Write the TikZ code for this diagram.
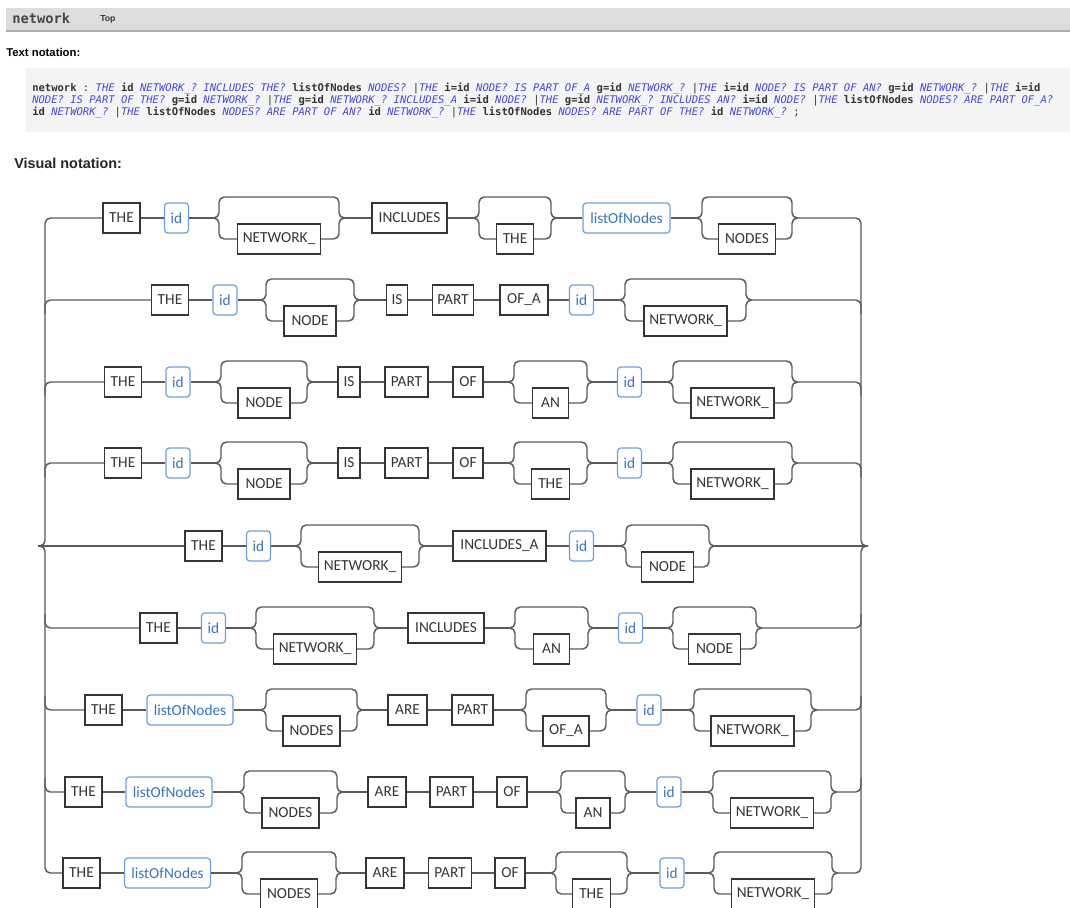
\documentclass[tikz,border=0pt]{standalone}
\usepackage{fontspec}
\setmainfont{Carlito}
\newfontfamily\codefont{DejaVu Sans Mono}
\newfontfamily\labelfont{Liberation Sans}

\definecolor{railgray}{HTML}{5A5A5A}
\definecolor{boxgray}{HTML}{353535}
\definecolor{idblue}{HTML}{6E9FD8}
\definecolor{idtext}{HTML}{3A74BA}
\definecolor{kwblue}{HTML}{4848D0}
\definecolor{codebg}{HTML}{F4F4F4}
\definecolor{barbg}{HTML}{DDDDDD}

\newcommand{\kwd}[1]{{\itshape\color{kwblue}#1}}
\newcommand{\idt}[1]{{\bfseries #1}}

\tikzset{
	rail/.style={draw=railgray, line width=1.1pt, rounded corners=4pt},
	kw/.style={draw=boxgray, line width=0.9pt, fill=white, text=boxgray, inner sep=0pt, minimum height=22.5pt, font=\fontsize{11.5}{12}\selectfont},
	nt/.style={kw, draw=idblue, text=idtext, rounded corners=2.5pt},
	wd/.style={minimum width=#1*0.75pt},
	caption/.style={anchor=west, inner sep=0pt},
	codeline/.style={anchor=base west, inner sep=0pt, text=black!80, font=\codefont\fontsize{7.9}{9}\selectfont\frenchspacing}
}

\newcommand{\optbox}[6]{%
	\coordinate (#1l) at (#2,#4);
	\coordinate (#1r) at (#3,#4);
	\node[kw, wd=#5] (#1) at ({(#2+#3)/2},#4+21) {#6};
	\draw[rail] (#1l) -- ++(6,0) -- ++(0,-21) -- (#3-6,#4-21) -- (#3-6,#4) -- (#1r);
	\draw[rail] (#1l) -- ++(6,0) -- ++(0,21) -- (#1.west);
	\draw[rail] (#1.east) -- (#3-6,#4+21) -- (#3-6,#4) -- (#1r);
}

\begin{document}
\begin{tikzpicture}[x=0.75pt, y=-0.75pt]
	\useasboundingbox (0,0) rectangle (1070,907);
	\fill[barbg] (6,8) rectangle (1070,31);
	\draw[gray!65, line width=0.8pt] (6,31) -- (1070,31);
	\node[caption, text=black!72, font=\codefont\bfseries\fontsize{10.3}{12}\selectfont] (title) at (12,18) {network};
	\node[caption, text=black!80, font=\labelfont\bfseries\fontsize{6.5}{8}\selectfont] (top) at (100,19) {Top};
	\node[caption, font=\labelfont\bfseries\fontsize{8.5}{10}\selectfont] (textlbl) at (6,52) {Text notation:};
	\fill[codebg] (26,68) rectangle (1070,132);
	\node[codeline] (code1) at (32,91) {\idt{network} : \kwd{THE} \idt{id} \kwd{NETWORK\_?} \kwd{INCLUDES THE?} \idt{listOfNodes} \kwd{NODES?} |\kwd{THE} \idt{i=id} \kwd{NODE? IS PART OF\_A} \idt{g=id} \kwd{NETWORK\_?} |\kwd{THE} \idt{i=id} \kwd{NODE? IS PART OF AN?} \idt{g=id} \kwd{NETWORK\_?} |\kwd{THE} \idt{i=id}};
	\node[codeline] (code2) at (32,103) {\kwd{NODE? IS PART OF THE?} \idt{g=id} \kwd{NETWORK\_?} |\kwd{THE} \idt{g=id} \kwd{NETWORK\_? INCLUDES\_A} \idt{i=id} \kwd{NODE?} |\kwd{THE} \idt{g=id} \kwd{NETWORK\_? INCLUDES AN?} \idt{i=id} \kwd{NODE?} |\kwd{THE} \idt{listOfNodes} \kwd{NODES? ARE PART OF\_A?}};
	\node[codeline] (code3) at (32,115) {\idt{id} \kwd{NETWORK\_?} |\kwd{THE} \idt{listOfNodes} \kwd{NODES? ARE PART OF AN?} \idt{id} \kwd{NETWORK\_?} |\kwd{THE} \idt{listOfNodes} \kwd{NODES? ARE PART OF THE?} \idt{id} \kwd{NETWORK\_?} ;};
	\node[caption, text=black!85, font=\labelfont\bfseries\fontsize{10.8}{13}\selectfont] (vislbl) at (14,163) {Visual notation:};

	\node[kw, wd=37] (a1) at (121.5,218) {THE};
	\node[nt, wd=24] (a2) at (176.5,218) {id};
	\optbox{a3}{213}{345}{218}{83}{NETWORK\_}
	\node[kw, wd=75] (a4) at (409.5,218) {INCLUDES};
	\optbox{a5}{473}{557}{218}{37}{THE}
	\node[nt, wd=87] (a6) at (626.5,218) {listOfNodes};
	\optbox{a7}{696}{798}{218}{57}{NODES}
	\draw[rail] (a1) -- (a2) -- (a3l) (a3r) -- (a4) -- (a5l) (a5r) -- (a6) -- (a7l);

	\node[kw, wd=37] (b1) at (170,300) {THE};
	\node[nt, wd=24] (b2) at (225,300) {id};
	\optbox{b3}{260}{360}{300}{52}{NODE}
	\node[kw, wd=21] (b4) at (397,300) {IS};
	\node[kw, wd=41] (b5) at (453,300) {PART};
	\node[kw, wd=48] (b6) at (524,300) {OF\_A};
	\node[nt, wd=24] (b7) at (581.5,300) {id};
	\optbox{b8}{619}{752}{300}{83}{NETWORK\_}
	\draw[rail] (b1) -- (b2) -- (b3l) (b3r) -- (b4) -- (b5) -- (b6) -- (b7) -- (b8l);

	\node[kw, wd=37] (c1) at (123,382) {THE};
	\node[nt, wd=24] (c2) at (178,382) {id};
	\optbox{c3}{215}{313}{382}{52}{NODE}
	\node[kw, wd=22] (c4) at (349,382) {IS};
	\node[kw, wd=43] (c5) at (406.5,382) {PART};
	\node[kw, wd=30] (c6) at (468,382) {OF};
	\optbox{c7}{508}{593}{382}{36}{AN}
	\node[nt, wd=24] (c8) at (629.5,382) {id};
	\optbox{c9}{667}{798}{382}{83}{NETWORK\_}
	\draw[rail] (c1) -- (c2) -- (c3l) (c3r) -- (c4) -- (c5) -- (c6) -- (c7l) (c7r) -- (c8) -- (c9l);

	\node[kw, wd=37] (d1) at (123,463) {THE};
	\node[nt, wd=24] (d2) at (178,463) {id};
	\optbox{d3}{215}{313}{463}{52}{NODE}
	\node[kw, wd=22] (d4) at (349,463) {IS};
	\node[kw, wd=43] (d5) at (406.5,463) {PART};
	\node[kw, wd=30] (d6) at (468,463) {OF};
	\optbox{d7}{508}{593}{463}{38}{THE}
	\node[nt, wd=24] (d8) at (629.5,463) {id};
	\optbox{d9}{667}{798}{463}{83}{NETWORK\_}
	\draw[rail] (d1) -- (d2) -- (d3l) (d3r) -- (d4) -- (d5) -- (d6) -- (d7l) (d7r) -- (d8) -- (d9l);

	\node[kw, wd=37] (e1) at (203.5,546) {THE};
	\node[nt, wd=24] (e2) at (258.5,546) {id};
	\optbox{e3}{295}{425}{546}{83}{NETWORK\_}
	\node[kw, wd=93] (e4) at (499.5,546) {INCLUDES\_A};
	\node[nt, wd=24] (e5) at (581.5,546) {id};
	\optbox{e6}{620}{715}{546}{52}{NODE}
	\draw[rail] (e1) -- (e2) -- (e3l) (e3r) -- (e4) -- (e5) -- (e6l);

	\node[kw, wd=37] (f1) at (158.5,628) {THE};
	\node[nt, wd=24] (f2) at (213.5,628) {id};
	\optbox{f3}{250}{380}{628}{83}{NETWORK\_}
	\node[kw, wd=76] (f4) at (446,628) {INCLUDES};
	\optbox{f5}{509}{594}{628}{36}{AN}
	\node[nt, wd=24] (f6) at (630.5,628) {id};
	\optbox{f7}{667}{762}{628}{52}{NODE}
	\draw[rail] (f1) -- (f2) -- (f3l) (f3r) -- (f4) -- (f5l) (f5r) -- (f6) -- (f7l);

	\node[kw, wd=37] (g1) at (103.5,710) {THE};
	\node[nt, wd=86] (g2) at (190,710) {listOfNodes};
	\optbox{g3}{260}{363}{710}{57}{NODES}
	\node[kw, wd=39] (g4) at (407.5,710) {ARE};
	\node[kw, wd=41] (g5) at (472.5,710) {PART};
	\optbox{g6}{520}{612}{710}{46}{OF\_A}
	\node[nt, wd=24] (g7) at (649,710) {id};
	\optbox{g8}{688}{817}{710}{83}{NETWORK\_}
	\draw[rail] (g1) -- (g2) -- (g3l) (g3r) -- (g4) -- (g5) -- (g6l) (g6r) -- (g7) -- (g8l);

	\node[kw, wd=37] (h1) at (83.5,792) {THE};
	\node[nt, wd=86] (h2) at (169,792) {listOfNodes};
	\optbox{h3}{238}{343}{792}{57}{NODES}
	\node[kw, wd=38] (h4) at (387,792) {ARE};
	\node[kw, wd=43] (h5) at (451.5,792) {PART};
	\node[kw, wd=30] (h6) at (512,792) {OF};
	\optbox{h7}{555}{631}{792}{34}{AN}
	\node[nt, wd=24] (h8) at (669,792) {id};
	\optbox{h9}{707}{837}{792}{83}{NETWORK\_}
	\draw[rail] (h1) -- (h2) -- (h3l) (h3r) -- (h4) -- (h5) -- (h6) -- (h7l) (h7r) -- (h8) -- (h9l);

	\node[kw, wd=37] (i1) at (81.5,873) {THE};
	\node[nt, wd=86] (i2) at (167.5,873) {listOfNodes};
	\optbox{i3}{236}{342}{873}{57}{NODES}
	\node[kw, wd=38] (i4) at (385,873) {ARE};
	\node[kw, wd=43] (i5) at (450,873) {PART};
	\node[kw, wd=30] (i6) at (510,873) {OF};
	\optbox{i7}{550}{633}{873}{38}{THE}
	\node[nt, wd=24] (i8) at (672,873) {id};
	\optbox{i9}{708}{838}{873}{83}{NETWORK\_}
	\draw[rail] (i1) -- (i2) -- (i3l) (i3r) -- (i4) -- (i5) -- (i6) -- (i7l) (i7r) -- (i8) -- (i9l);

	\coordinate (entry) at (38,546);
	\coordinate (exit) at (868,546);
	\draw[rail] (a1) -- (45,218) -- (45,546) -- (entry);
	\draw[rail] (i1) -- (45,873) -- (45,546) -- (entry);
	\draw[rail] (entry) -- (e1);
	\draw[rail] (45,314) -- (45,300) -- (b1);
	\draw[rail] (45,396) -- (45,382) -- (c1);
	\draw[rail] (45,477) -- (45,463) -- (d1);
	\draw[rail] (45,614) -- (45,628) -- (f1);
	\draw[rail] (45,696) -- (45,710) -- (g1);
	\draw[rail] (45,778) -- (45,792) -- (h1);
	\draw[rail] (a7r) -- (861,218) -- (861,546) -- (exit);
	\draw[rail] (i9r) -- (861,873) -- (861,546) -- (exit);
	\draw[rail] (e6r) -- (exit);
	\draw[rail] (b8r) -- (861,300) -- (861,314);
	\draw[rail] (c9r) -- (861,382) -- (861,396);
	\draw[rail] (d9r) -- (861,463) -- (861,477);
	\draw[rail] (f7r) -- (861,628) -- (861,614);
	\draw[rail] (g8r) -- (861,710) -- (861,696);
	\draw[rail] (h9r) -- (861,792) -- (861,778);
\end{tikzpicture}
\end{document}
